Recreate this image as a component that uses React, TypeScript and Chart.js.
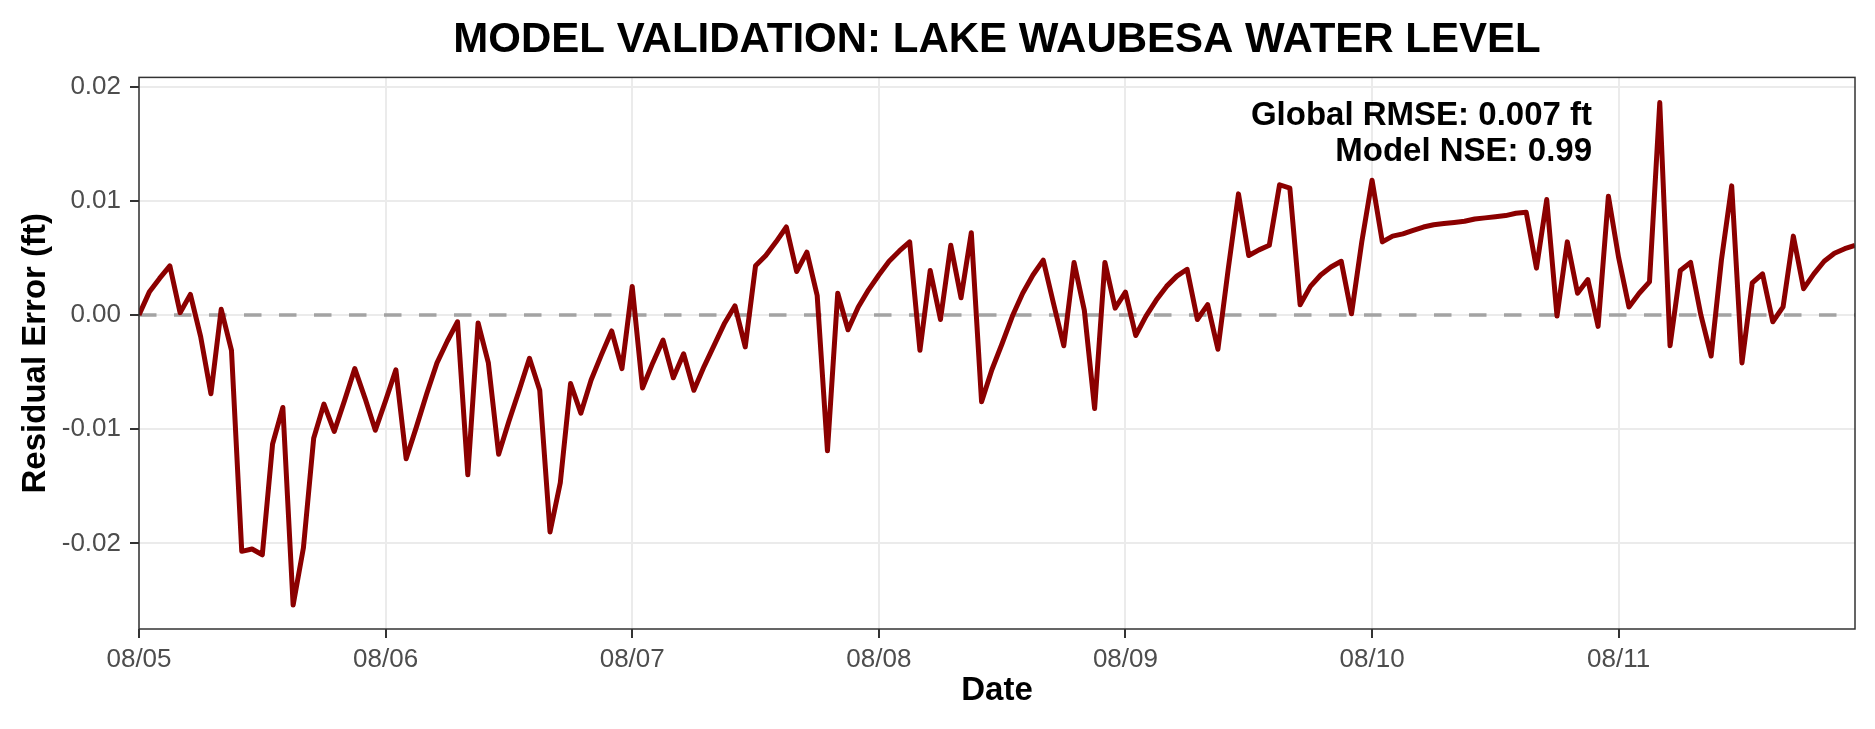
import { useEffect, useRef } from "react";
import Chart from "chart.js/auto";

// tick labels along the time axis, one per day (ticks every 24 h)
const DAY_LABELS = ["08/05", "08/06", "08/07", "08/08", "08/09", "08/10", "08/11"];
const HOURS_PER_DAY = 24;

// hourly residual error (ft), one array per day, 00:00 .. 23:00
const aug05 = [0.0, 0.002, 0.0032, 0.0043, 0.0002, 0.0018, -0.0019, -0.0069, 0.0005, -0.0031, -0.0207, -0.0205, -0.021, -0.0113, -0.0081, -0.0254, -0.0204, -0.0108, -0.0078, -0.0102, -0.0075, -0.0047, -0.0073, -0.0101];
const aug06 = [-0.0075, -0.0048, -0.0126, -0.0098, -0.0069, -0.0042, -0.0023, -0.0006, -0.014, -0.0007, -0.0042, -0.0122, -0.0093, -0.0066, -0.0038, -0.0066, -0.019, -0.0147, -0.006, -0.0086, -0.0057, -0.0035, -0.0014, -0.0047];
const aug07 = [0.0025, -0.0064, -0.0042, -0.0022, -0.0055, -0.0034, -0.0066, -0.0045, -0.0026, -0.0007, 0.0008, -0.0028, 0.0043, 0.0052, 0.0064, 0.0077, 0.0038, 0.0055, 0.0017, -0.0119, 0.0019, -0.0013, 0.0007, 0.0022];
const aug08 = [0.0035, 0.0047, 0.0056, 0.0064, -0.0031, 0.0039, -0.0004, 0.0061, 0.0015, 0.0072, -0.0076, -0.0048, -0.0025, -0.0001, 0.0019, 0.0035, 0.0048, 0.001, -0.0027, 0.0046, 0.0004, -0.0082, 0.0046, 0.0006];
const aug09 = [0.002, -0.0018, -0.0001, 0.0013, 0.0025, 0.0034, 0.004, -0.0004, 0.0009, -0.003, 0.004, 0.0106, 0.0052, 0.0057, 0.0061, 0.0114, 0.0111, 0.0009, 0.0025, 0.0035, 0.0042, 0.0047, 0.0001, 0.0064];
const aug10 = [0.0118, 0.0064, 0.0069, 0.0071, 0.0074, 0.0077, 0.0079, 0.008, 0.0081, 0.0082, 0.0084, 0.0085, 0.0086, 0.0087, 0.0089, 0.009, 0.0041, 0.0101, -0.0001, 0.0064, 0.0019, 0.0031, -0.001, 0.0104];
const aug11 = [0.005, 0.0007, 0.0019, 0.0029, 0.0186, -0.0027, 0.0039, 0.0046, 0.0, -0.0036, 0.0048, 0.0113, -0.0042, 0.0028, 0.0036, -0.0006, 0.0007, 0.0069, 0.0023, 0.0036, 0.0047, 0.0054, 0.0058, 0.0061];

const residuals = [...aug05, ...aug06, ...aug07, ...aug08, ...aug09, ...aug10, ...aug11];

const Y_MIN = -0.0275;
const Y_MAX = 0.0208;
const Y_STEP = 0.01;

const STATS = ["Global RMSE: 0.007 ft", "Model NSE: 0.99"];

const FONT = '"Liberation Sans", Arial, Helvetica, sans-serif';

// ggplot-style full panel border
const panelBorder = {
  id: "panelBorder",
  afterDatasetsDraw(chart: any) {
    const { ctx, chartArea: a } = chart;
    ctx.save();
    ctx.strokeStyle = "#333333";
    ctx.lineWidth = 1.5;
    ctx.strokeRect(a.left, a.top, a.right - a.left, a.bottom - a.top);
    ctx.restore();
  },
};

// right-aligned stats note in the upper right of the panel
const statsNote = {
  id: "statsNote",
  afterDraw(chart: any) {
    const { ctx, chartArea: a } = chart;
    ctx.save();
    ctx.font = `bold 33px ${FONT}`;
    ctx.fillStyle = "#000000";
    ctx.textAlign = "right";
    ctx.textBaseline = "alphabetic";
    STATS.forEach((line, i) => {
      ctx.fillText(line, a.right - 263, a.top + 48 + i * 36);
    });
    ctx.restore();
  },
};

const ResidualChart = () => {
  const chartRef = useRef<HTMLCanvasElement>(null);

  useEffect(() => {
    if (!chartRef.current) return;

    const points = residuals.map((y, i) => ({ x: i, y }));
    const lastHour = residuals.length - 1;

    const chart = new Chart(chartRef.current, {
      type: "line",
      data: {
        datasets: [
          {
            label: "Residual",
            data: points,
            borderColor: "#8B0000",
            borderWidth: 5,
            borderJoinStyle: "round",
            pointRadius: 0,
            tension: 0,
            fill: false,
          },
          {
            label: "Zero",
            data: [
              { x: 0, y: 0 },
              { x: lastHour, y: 0 },
            ],
            borderColor: "#A3A3A3",
            borderWidth: 3.5,
            borderDash: [17.5, 17.5],
            pointRadius: 0,
            fill: false,
          },
        ],
      },
      options: {
        animation: false,
        responsive: true,
        maintainAspectRatio: false,
        layout: { padding: { top: 0, left: 0, right: 20, bottom: 0 } },
        plugins: {
          legend: { display: false },
          tooltip: { enabled: false },
          title: {
            display: true,
            fullSize: false,
            text: "MODEL VALIDATION: LAKE WAUBESA WATER LEVEL",
            color: "#000000",
            font: { family: FONT, size: 42, weight: "bold" },
            padding: { top: 15, bottom: 12 },
          },
        },
        scales: {
          x: {
            type: "linear",
            min: 0,
            max: lastHour,
            border: { display: false },
            grid: {
              color: "#EBEBEB",
              lineWidth: 2,
              tickColor: "#333333",
              tickLength: 9,
              tickWidth: 2,
            },
            ticks: {
              stepSize: HOURS_PER_DAY,
              includeBounds: false,
              autoSkip: false,
              maxRotation: 0,
              color: "#4D4D4D",
              padding: 6,
              font: { family: FONT, size: 26 },
              callback: (v: any) => DAY_LABELS[Number(v) / HOURS_PER_DAY] ?? "",
            },
            title: {
              display: true,
              text: "Date",
              color: "#000000",
              font: { family: FONT, size: 33, weight: "bold" },
              padding: { top: 0, bottom: 18 },
            },
            afterFit: (scale: any) => {
              scale.height = 100;
            },
          },
          y: {
            min: Y_MIN,
            max: Y_MAX,
            border: { display: false },
            grid: {
              color: "#EBEBEB",
              lineWidth: 2,
              tickColor: "#333333",
              tickLength: 9,
              tickWidth: 2,
            },
            ticks: {
              stepSize: Y_STEP,
              includeBounds: false,
              color: "#4D4D4D",
              padding: 9,
              font: { family: FONT, size: 26 },
              callback: (v: any) => Number(v).toFixed(2),
            },
            title: {
              display: true,
              text: "Residual Error (ft)",
              color: "#000000",
              font: { family: FONT, size: 33, weight: "bold" },
              padding: { top: 16, bottom: 0 },
            },
            afterFit: (scale: any) => {
              scale.width = 139;
            },
          },
        },
      },
      plugins: [panelBorder, statsNote],
    });

    return () => {
      chart.destroy();
    };
  }, []);

  return (
    <div
      style={{
        position: "fixed",
        left: 0,
        top: 0,
        width: "1875px",
        height: "729px",
        background: "#ffffff",
      }}
    >
      <canvas ref={chartRef} />
    </div>
  );
};

export default function App() {
  return <ResidualChart />;
}
